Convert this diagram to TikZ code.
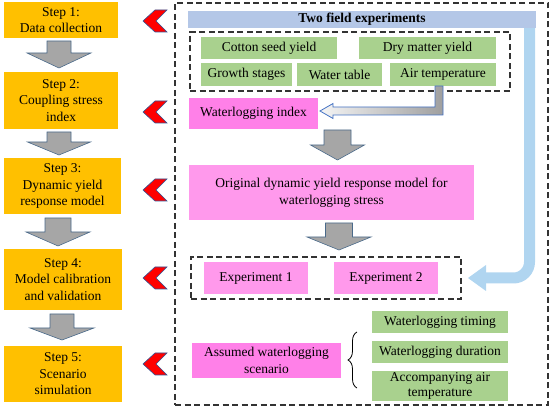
\documentclass[tikz,border=0pt]{standalone}
\usepackage{fontspec}
\setmainfont{Liberation Serif}
\usetikzlibrary{calc,decorations.pathreplacing}
\definecolor{stepor}{HTML}{FFC000}
\definecolor{grn}{HTML}{A9D18E}
\definecolor{pinkA}{HTML}{FF80E8}
\definecolor{pinkB}{HTML}{FF99EC}
\definecolor{barblue}{HTML}{B4C7E7}
\definecolor{arrblue}{HTML}{B0D5F0}
\definecolor{arrgray}{HTML}{A6A6A6}
\definecolor{arrline}{HTML}{4A6A8A}
\definecolor{chevline}{HTML}{2F5597}
\definecolor{hollowline}{HTML}{4472C4}
\tikzset{
 base/.style={inner sep=0pt, outer sep=0pt, align=center, font=\fontsize{13.5}{16.5}\selectfont},
 stepbox/.style={base, fill=stepor},
 greenbox/.style={base, fill=grn},
 pinkbox/.style={base, fill=pinkA},
 lpink/.style={base, fill=pinkB},
 dashbox/.style={draw=black!80, line width=1.1pt, dash pattern=on 6pt off 3.5pt, inner sep=0pt, outer sep=0pt},
 grayarrow/.style={fill=arrgray, draw=arrline, line width=0.6pt, line join=miter},
 chev/.style={fill=red, draw=chevline, line width=0.6pt, line join=miter},
}
\newcommand\downblock[8]{%
 \coordinate (dbT) at ($(#1.south)+(#3,#4)$);
 \coordinate (dbP) at ($(#2.north)+(0,-#5)$);
 \coordinate (dbTip) at (dbT |- dbP);
 \draw[grayarrow] ($(dbT)+(-#6,0)$) -- ($(dbT)+(#6,0)$) -- ($(dbTip)+(#6,-#8)$) -- ($(dbTip)+(#7,-#8)$) -- (dbTip) -- ($(dbTip)+(-#7,-#8)$) -- ($(dbTip)+(-#6,-#8)$) -- cycle;}
\newcommand\chevronat[2]{%
 \draw[chev] (#1,#2) -- ++(12,-11) -- ++(12,0) -- ++(-11,11) -- ++(11,11) -- ++(-12,0) -- cycle;}
\begin{document}
\begin{tikzpicture}[x=1pt,y=-1pt]
\useasboundingbox (0,0) rectangle (550,409);

% left steps
\node[stepbox, minimum width=114pt, minimum height=36pt] (s1) at (61,20) {Step 1:\\Data collection};
\node[stepbox, minimum width=114pt, minimum height=57pt] (s2) at (61,100.5) {Step 2:\\Coupling stress\\index};
\node[stepbox, minimum width=117pt, minimum height=56pt] (s3) at (62.5,186) {Step 3:\\Dynamic yield\\response model};
\node[stepbox, minimum width=118pt, minimum height=61pt] (s4) at (63,279.5) {Step 4:\\Model calibration\\and validation};
\node[stepbox, minimum width=118pt, minimum height=56pt] (s5) at (63,374) {Step 5:\\Scenario\\simulation};

\downblock{s1}{s2}{-2}{3}{4}{12}{32}{15}
\downblock{s2}{s3}{-2}{3}{3}{12}{31.5}{13}
\downblock{s3}{s4}{-4.5}{4}{3}{13}{32}{14}
\downblock{s4}{s5}{-1}{4}{6}{12}{32}{12}

% chevrons
\chevronat{143}{21}
\chevronat{143}{112}
\chevronat{143}{190}
\chevronat{143}{278}
\chevronat{143}{364}

% right panel
\node[dashbox, minimum width=373pt, minimum height=402pt] (panel) at (361.5,204) {};
\node[dashbox, minimum width=320pt, minimum height=59pt] (databox) at (350,61.5) {};
\node[dashbox, minimum width=270pt, minimum height=42pt] (expbox) at (326,278) {};

% blue return arrow
\node[base, fill=barblue, minimum width=348pt, minimum height=17pt] (bar) at (362,19.5) {};
\coordinate (vtop) at ($(bar.south east)+(-6.5,-1)$);
\coordinate (vtip) at ($(expbox.east)+(7,0)$);
\draw[arrblue, line width=11pt, rounded corners=16pt] (vtop) |- ($(vtip)+(17,0)$);
\fill[arrblue] (vtip) -- ++(18,-13) -- ++(0,26) -- cycle;
\node[base, fill=barblue, minimum width=348pt, minimum height=17pt] at (bar) {\textbf{Two field experiments}};

% data boxes
\node[greenbox, minimum width=136pt, minimum height=22pt] (cotton) at (269,48) {Cotton seed yield};
\node[greenbox, minimum width=137pt, minimum height=22pt] (dry) at (427.5,48) {Dry matter yield};
\node[greenbox, minimum width=91pt, minimum height=23pt] (growth) at (246.5,74.5) {Growth stages};
\node[greenbox, minimum width=85pt, minimum height=23pt] (wtable) at (339.5,74.5) {Water table};
\node[greenbox, minimum width=106pt, minimum height=23pt] (air) at (443,74.5) {Air temperature};

% waterlogging index
\node[pinkbox, minimum width=129pt, minimum height=31pt] (windex) at (253.5,113.5) {Waterlogging index};

% hollow arrow
\coordinate (ha) at ($(air.south)+(-4,0)$);
\coordinate (hb) at ($(windex.east)+(2,-2.5)$);
\coordinate (hc) at (ha |- hb);
\draw[hollowline, line width=0.8pt, line join=miter, left color=white!92!gray, right color=gray!75]
 ($(ha)+(-4,0)$) -- ($(ha)+(4,0)$) -- ($(hc)+(4,4)$) -- ($(hb)+(13,4)$) -- ($(hb)+(13,7.5)$) -- (hb)
 -- ($(hb)+(13,-7.5)$) -- ($(hb)+(13,-4)$) -- ($(hc)+(-4,-4)$) -- cycle;

% model
\node[lpink, minimum width=285pt, minimum height=55pt] (orig) at (331.5,192.5) {Original dynamic yield response model for\\waterlogging stress};
\downblock{windex}{orig}{84}{1}{5}{13.5}{27}{15}
\downblock{orig}{expbox}{7.5}{3}{7}{13.5}{32}{13}

% experiments
\node[lpink, minimum width=104pt, minimum height=32pt] (e1) at (256,278) {Experiment 1};
\node[lpink, minimum width=104pt, minimum height=32pt] (e2) at (386,278) {Experiment 2};

% scenario
\node[pinkbox, minimum width=149pt, minimum height=35pt] (scen) at (266.5,360.5) {Assumed waterlogging\\scenario};
\node[greenbox, minimum width=136pt, minimum height=22pt] (timing) at (440,322) {Waterlogging timing};
\node[greenbox, minimum width=136pt, minimum height=22pt] (dur) at (440,352) {Waterlogging duration};
\node[greenbox, minimum width=136pt, minimum height=30pt, font=\fontsize{13.5}{15}\selectfont] (acc) at (440,386) {Accompanying air\\temperature};
\coordinate (brb) at ($(timing.west |- acc.south)+(-15,-13)$);
\coordinate (brt) at ($(timing.west)+(-15,10)$);
\draw[decorate, decoration={brace, amplitude=9pt}, line width=0.8pt] (brb) -- (brt);
\end{tikzpicture}
\end{document}
